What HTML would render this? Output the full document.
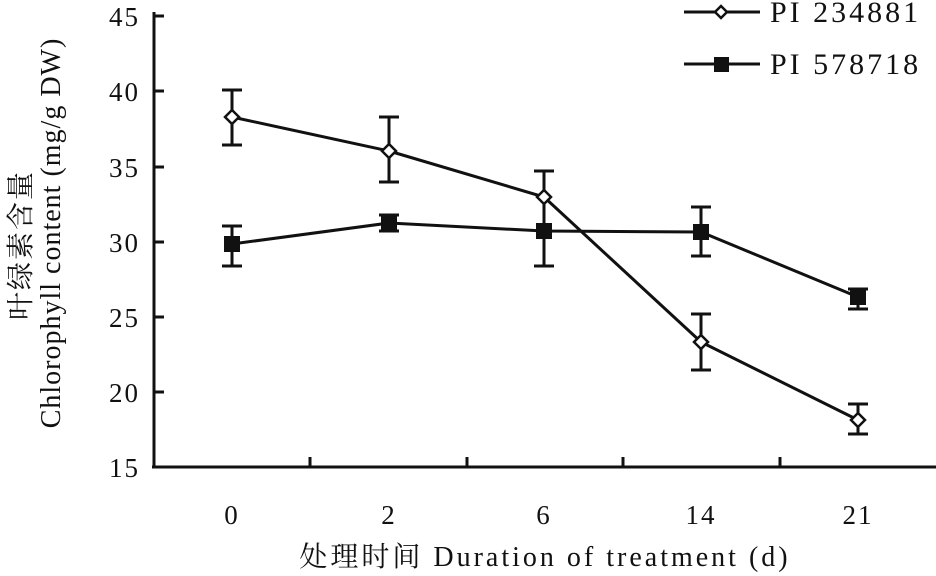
<!DOCTYPE html>
<html><head><meta charset="utf-8"><style>body{margin:0;background:#fff}svg{display:block}text{font-family:"Liberation Serif","Noto Serif CJK SC",serif;fill:#111}</style></head><body>
<svg width="936" height="576" viewBox="0 0 936 576">
<g stroke="#111" stroke-width="3" fill="none">
<line x1="154" y1="12" x2="154" y2="468"/>
<line x1="152" y1="467" x2="936" y2="467"/>
<line x1="154" y1="16" x2="164" y2="16"/><line x1="154" y1="91" x2="164" y2="91"/><line x1="154" y1="167" x2="164" y2="167"/><line x1="154" y1="242" x2="164" y2="242"/><line x1="154" y1="317" x2="164" y2="317"/><line x1="154" y1="392" x2="164" y2="392"/>
<line x1="310" y1="467" x2="310" y2="457"/><line x1="467" y1="467" x2="467" y2="457"/><line x1="623" y1="467" x2="623" y2="457"/><line x1="780" y1="467" x2="780" y2="457"/>
</g>
<g font-size="27" text-anchor="end" letter-spacing="2"><text x="140" y="26">45</text><text x="140" y="101">40</text><text x="140" y="177">35</text><text x="140" y="252">30</text><text x="140" y="327">25</text><text x="140" y="402">20</text><text x="140" y="477">15</text></g>
<g font-size="27" text-anchor="middle" letter-spacing="2"><text x="232" y="524">0</text><text x="389" y="524">2</text><text x="544" y="524">6</text><text x="701" y="524">14</text><text x="858" y="524">21</text></g>
<text x="545" y="566" font-size="28" text-anchor="middle" letter-spacing="3">处理时间 Duration of treatment (d)</text>
<text transform="translate(30,245) rotate(-90)" font-size="28" text-anchor="middle" letter-spacing="2">叶绿素含量</text>
<text transform="translate(60,233) rotate(-90)" font-size="28" text-anchor="middle" letter-spacing="1">Chlorophyll content (mg/g DW)</text>
<g stroke="#111" stroke-width="3" fill="none">
<path d="M232 90V145M222 90H242M222 145H242 M389 117V182M379 117H399M379 182H399 M544 171V230M534 171H554 M701 314V370M691 314H711M691 370H711 M858 404V434M848 404H868M848 434H868"/>
<path d="M232 226V266M222 226H242M222 266H242 M389 215V231M379 215H399M379 231H399 M544 225V266M534 266H554 M701 207V256M691 207H711M691 256H711 M858 289V309M848 289H868M848 309H868"/>
<polyline points="232,117 389,151 544,197 701,342 858,420"/>
<polyline points="232,244 389,223 544,231 701,232 858,297"/>
<line x1="684" y1="12" x2="760" y2="12"/><line x1="684" y1="64" x2="760" y2="64"/>
</g>
<g fill="#fff" stroke="#111" stroke-width="2.5">
<path d="M232 110l7 7-7 7-7-7z"/><path d="M389 144l7 7-7 7-7-7z"/><path d="M544 190l7 7-7 7-7-7z"/><path d="M701 335l7 7-7 7-7-7z"/><path d="M858 413l7 7-7 7-7-7z"/><path d="M721 6l6 6-6 6-6-6z"/>
</g>
<g fill="#111"><rect x="224" y="236" width="16" height="16"/><rect x="381" y="215" width="16" height="16"/><rect x="536" y="223" width="16" height="16"/><rect x="693" y="224" width="16" height="16"/><rect x="850" y="289" width="16" height="16"/><rect x="714" y="57" width="15" height="15"/></g>
<g font-size="30" letter-spacing="3"><text x="770" y="22">PI 234881</text><text x="770" y="74">PI 578718</text></g>
</svg>
</body></html>
